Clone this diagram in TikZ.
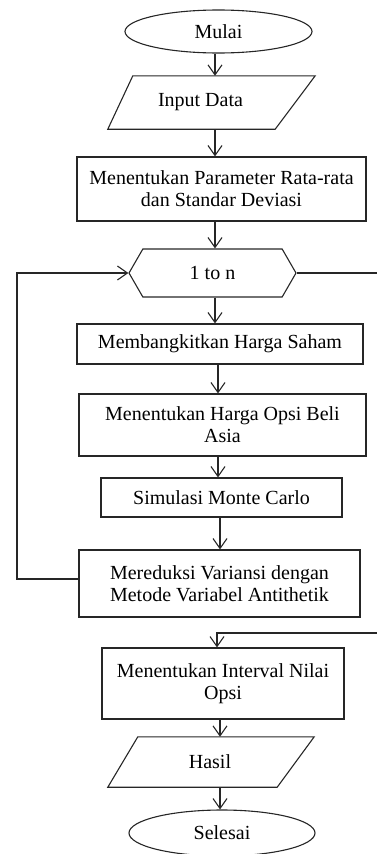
\documentclass[tikz,border=0pt]{standalone}
\usepackage{fontspec}
\setmainfont{Liberation Serif}
\usetikzlibrary{shapes.geometric,shapes.symbols,arrows.meta,calc}
\begin{document}
\begin{tikzpicture}[x=1pt,y=-1pt,
  lw/.style={line width=1.1pt, draw=black!85},
  every node/.style={font=\fontsize{20}{22}\selectfont, inner sep=0pt},
  box/.style={lw, rectangle, align=center},
  term/.style={lw, ellipse},
  io/.style={rectangle},
  hexa/.style={lw, signal, signal to=west and east, signal pointer angle=120},
  arr/.style={lw, -{Straight Barb[length=10pt,width=14pt]}},
  ln/.style={lw}
  ]
\useasboundingbox (0,0) rectangle (377,854);

\node[term, minimum width=187pt, minimum height=43pt] (mulai) at (218.5,31.5) {Mulai};
\node[io, minimum width=207pt, minimum height=53pt] (inp) at (211.5,102.5) {Input Data\hspace*{22pt}};
\node[box, minimum width=289pt, minimum height=64pt] (par) at (221.5,189) {Menentukan Parameter Rata-rata\\dan Standar Deviasi};
\node[hexa, minimum width=167pt, minimum height=48pt] (loop) at (212.5,273) {1 to n};
\node[box, minimum width=286pt, minimum height=40pt] (gen) at (220,344) {Membangkitkan Harga Saham};
\node[box, minimum width=287pt, minimum height=62pt] (opsi) at (222.5,425) {Menentukan Harga Opsi Beli\\Asia};
\node[box, minimum width=241pt, minimum height=39pt] (mc) at (221.5,497.5) {Simulasi Monte Carlo};
\node[box, minimum width=281pt, minimum height=67pt] (red) at (219.5,583.5) {Mereduksi Variansi dengan\\Metode Variabel Antithetik};
\node[box, minimum width=242pt, minimum height=71pt] (intv) at (223,683.5) {Menentukan Interval Nilai\\Opsi};
\node[io, minimum width=206pt, minimum height=50pt] (hasil) at (211,762) {Hasil\hspace*{2pt}};
\node[term, minimum width=186pt, minimum height=46pt] (selesai) at (222,833) {Selesai};

% parallelogram outlines
\draw[ln] (inp.south west) -- ($(inp.south east)+(-40,0)$) -- (inp.north east) -- ($(inp.north west)+(25,0)$) -- cycle;
\draw[ln] (hasil.south west) -- ($(hasil.south east)+(-37,0)$) -- (hasil.north east) -- ($(hasil.north west)+(30,0)$) -- cycle;

\coordinate (c1) at (215,0);
\coordinate (c2) at (218,0);
\coordinate (c3) at (220,0);
\coordinate (c4) at (217,0);

\draw[arr] (mulai.south -| c1) -- (inp.north -| c1);
\draw[arr] (inp.south -| c1) -- (par.north -| c1);
\draw[arr] (par.south -| c1) -- (loop.north -| c1);
\draw[arr] (loop.south -| c1) -- (gen.north -| c1);
\draw[arr] (gen.south -| c2) -- (opsi.north -| c2);
\draw[arr] (opsi.south -| c2) -- (mc.north -| c2);
\draw[arr] (mc.south -| c3) -- (red.north -| c3);
\draw[arr] (intv.south -| c3) -- (hasil.north -| c3);
\draw[arr] (hasil.south -| c3) -- (selesai.north -| c3);

\coordinate (lb) at (17,579);
\draw[arr] (red.west |- lb) -- (lb) |- (loop.west);

\coordinate (rt) at (379.5,273);
\coordinate (rb) at (379.5,633);
\draw[arr] (loop.east) -- (rt) -- (rb) -| (intv.north -| c4);
\end{tikzpicture}
\end{document}
